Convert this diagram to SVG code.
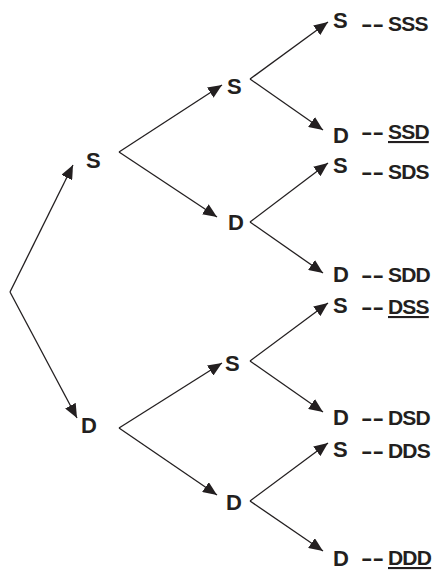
<svg xmlns="http://www.w3.org/2000/svg" width="437" height="571" viewBox="0 0 437 571">
<defs>
<style>
.n{font-family:"Liberation Sans",Arial,sans-serif;font-size:22px;font-weight:bold;fill:#231f20}
.l{font-family:"Liberation Sans",Arial,sans-serif;font-size:21px;font-weight:bold;fill:#231f20;letter-spacing:-0.8px}
.d{font-family:"Liberation Sans",Arial,sans-serif;font-size:21px;font-weight:bold;fill:#231f20}
.u{text-decoration:underline}
.e{stroke:#231f20;stroke-width:1.3;fill:none;marker-end:url(#ah)}
</style>
<marker id="ah" markerUnits="userSpaceOnUse" markerWidth="14" markerHeight="12" viewBox="0 0 14 12" refX="14" refY="6" orient="auto">
<path d="M0,0 L14,6 L0,12 Z" fill="#231f20"/>
</marker>
</defs>
<rect width="437" height="571" fill="#fff"/>
<g id="connectors">
<line class="e" x1="10" y1="292" x2="73" y2="165"/>
<line class="e" x1="10" y1="292" x2="77" y2="418"/>
<line class="e" x1="119" y1="152" x2="222" y2="85"/>
<line class="e" x1="119" y1="152" x2="217" y2="217"/>
<line class="e" x1="119" y1="428" x2="222" y2="363"/>
<line class="e" x1="119" y1="428" x2="217" y2="495"/>
<line class="e" x1="250" y1="79" x2="328" y2="22"/>
<line class="e" x1="250" y1="79" x2="323" y2="130"/>
<line class="e" x1="250" y1="222" x2="328" y2="163"/>
<line class="e" x1="250" y1="222" x2="323" y2="273"/>
<line class="e" x1="250" y1="361" x2="328" y2="303"/>
<line class="e" x1="250" y1="361" x2="323" y2="412"/>
<line class="e" x1="250" y1="501" x2="328" y2="443"/>
<line class="e" x1="250" y1="501" x2="323" y2="551"/>
</g>
<g id="n1S"><text class="n" x="86" y="168">S</text></g>
<g id="n1D"><text class="n" x="81" y="433">D</text></g>
<g id="n2SS"><text class="n" x="227" y="94">S</text></g>
<g id="n2SD"><text class="n" x="228" y="230">D</text></g>
<g id="n2DS"><text class="n" x="225" y="371">S</text></g>
<g id="n2DD"><text class="n" x="226" y="510">D</text></g>
<g id="leafSSS"><text class="n" x="333" y="28">S</text><text class="d" x="361" y="31" textLength="23" lengthAdjust="spacingAndGlyphs">--</text><text class="l" x="388" y="31">SSS</text></g>
<g id="leafSSD"><text class="n" x="333" y="143">D</text><text class="d" x="361" y="139" textLength="23" lengthAdjust="spacingAndGlyphs">--</text><text class="l u" x="388" y="139">SSD</text></g>
<g id="leafSDS"><text class="n" x="333" y="173">S</text><text class="d" x="361" y="179" textLength="23" lengthAdjust="spacingAndGlyphs">--</text><text class="l" x="388" y="179">SDS</text></g>
<g id="leafSDD"><text class="n" x="333" y="282">D</text><text class="d" x="361" y="282" textLength="23" lengthAdjust="spacingAndGlyphs">--</text><text class="l" x="388" y="282">SDD</text></g>
<g id="leafDSS"><text class="n" x="333" y="313">S</text><text class="d" x="361" y="314" textLength="23" lengthAdjust="spacingAndGlyphs">--</text><text class="l u" x="388" y="314">DSS</text></g>
<g id="leafDSD"><text class="n" x="333" y="425">D</text><text class="d" x="361" y="425" textLength="23" lengthAdjust="spacingAndGlyphs">--</text><text class="l" x="388" y="425">DSD</text></g>
<g id="leafDDS"><text class="n" x="333" y="457">S</text><text class="d" x="361" y="458" textLength="23" lengthAdjust="spacingAndGlyphs">--</text><text class="l" x="388" y="458">DDS</text></g>
<g id="leafDDD"><text class="n" x="333" y="566">D</text><text class="d" x="361" y="565" textLength="23" lengthAdjust="spacingAndGlyphs">--</text><text class="l u" x="388" y="565">DDD</text></g>
</svg>
